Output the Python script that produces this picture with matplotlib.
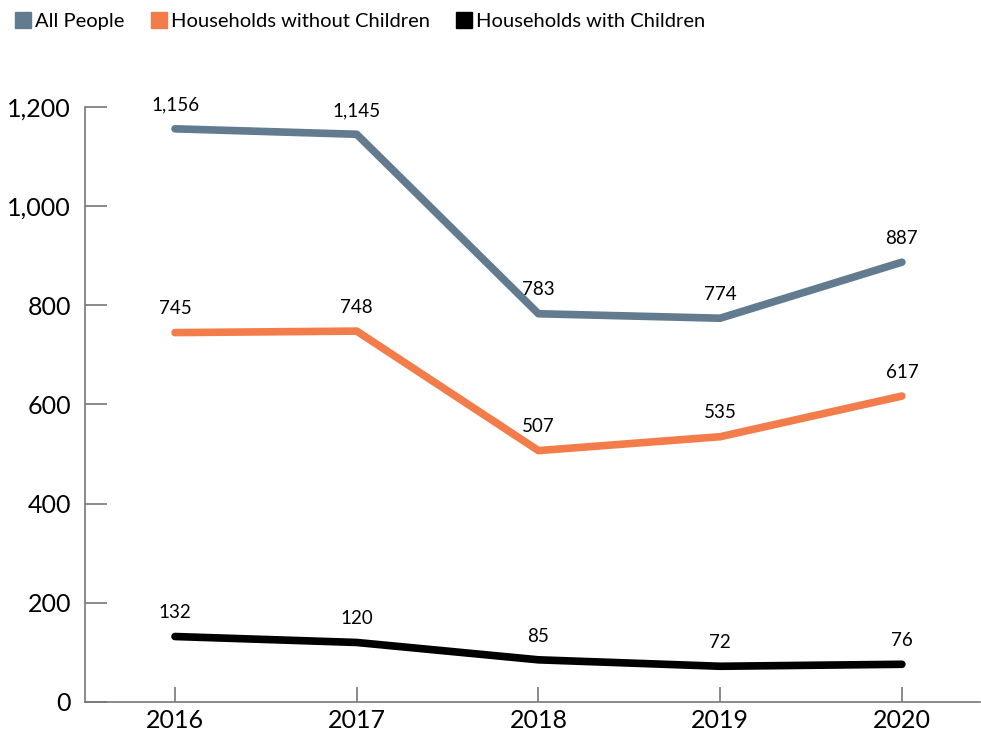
import matplotlib.pyplot as plt
from matplotlib.lines import Line2D

plt.rcParams['font.family'] = ['Lato', 'DejaVu Sans']

years = ["2016", "2017", "2018", "2019", "2020"]
all_people = [1156, 1145, 783, 774, 887]
without_children = [745, 748, 507, 535, 617]
with_children = [132, 120, 85, 72, 76]

series = [
    ("All People", all_people, "#627b8f"),
    ("Households without Children", without_children, "#f37d4a"),
    ("Households with Children", with_children, "#000000"),
]

fig = plt.figure(figsize=(9.81, 7.4), dpi=100)
ax = fig.add_axes([0.0867, 0.0514, 0.9123, 0.804])

x = list(range(len(years)))
for name, vals, color in series:
    ax.plot(x, vals, color=color, linewidth=5.5, solid_capstyle="round",
            solid_joinstyle="round", label=name)
    for xi, v in zip(x, vals):
        ax.annotate(f"{v:,}", (xi, v), xytext=(0, 11), textcoords="offset points",
                    ha="center", va="bottom", fontsize=13.5)

ax.set_xlim(-0.495, 4.43)
ax.set_ylim(0, 1200)
ax.set_yticks(range(0, 1201, 200))
ax.set_yticklabels([f"{t:,}" for t in range(0, 1201, 200)])
ax.set_xticks(x)
ax.set_xticklabels(years)

for s in ["top", "right"]:
    ax.spines[s].set_visible(False)
for s in ["left", "bottom"]:
    ax.spines[s].set_color("#777777")
    ax.spines[s].set_linewidth(1.2)
ax.spines["left"].set_bounds(0, 1200)

ax.tick_params(axis="y", direction="in", length=16, width=1.2, color="#777777",
               labelsize=18, pad=10)
ax.tick_params(axis="x", direction="in", length=11, width=1.2, color="#777777",
               labelsize=18, pad=5)

handles = [Line2D([], [], marker="s", linestyle="none", markersize=11,
                  markerfacecolor=c, markeredgecolor=c) for _, _, c in series]
fig.legend(handles, [n for n, _, _ in series], loc="upper left",
           bbox_to_anchor=(0.0, 1.0), ncol=3, frameon=False, fontsize=14.5,
           handletextpad=0.1, columnspacing=1.2, handlelength=1.0,
           borderaxespad=0.25)

fig.savefig("out.png", dpi=100)
